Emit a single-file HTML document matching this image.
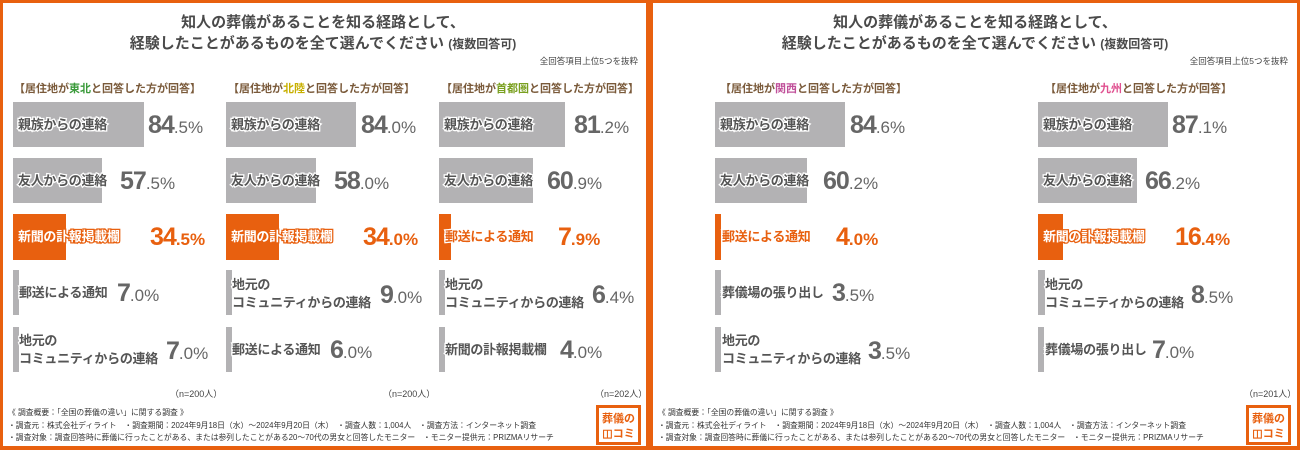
<!DOCTYPE html>
<html><head><meta charset="utf-8"><style>
*{margin:0;padding:0;box-sizing:border-box}
body{width:1300px;height:450px;background:#e8600f;position:relative;overflow:hidden;font-family:"Liberation Sans","Noto Sans CJK JP",sans-serif}
.pn{position:absolute;background:#fff;top:3px;height:443px}
.a{position:absolute;white-space:nowrap}
.t{font-size:15px;font-weight:bold;color:#4a4a4a;text-align:center;line-height:21px}
.t small{font-size:12px}
.sub{font-size:8.5px;color:#444}
.h{font-size:11px;font-weight:bold;color:#7a5a3a}
.bar{position:absolute;background:#b3b2b4}
.bar.o{background:#e8600f}
.lb{position:absolute;font-size:13px;font-weight:bold;color:#555;-webkit-text-stroke:2.5px #fff;paint-order:stroke fill;line-height:18px;white-space:nowrap;letter-spacing:-0.3px}
.lb.o{color:#e8600f}
.lb.w{color:#fff;-webkit-text-stroke:2.5px #e8600f}
.p{position:absolute;font-size:25px;font-weight:bold;color:#666;letter-spacing:-1px;white-space:nowrap;line-height:30px}
.p span{font-size:17px;font-weight:normal;letter-spacing:0}
.p.o{color:#e8600f}
.p.o span{font-weight:bold}
.n{font-size:9px;color:#444}
.f{font-size:7.8px;color:#333;line-height:12.5px}
.logo{position:absolute;width:45px;height:40px;border:3px solid #e8600f;background:#fff;color:#e8600f;font-size:11px;font-weight:bold;text-align:center;line-height:15px;padding-top:4px}
</style></head><body>
<div class="pn" style="left:3px;width:643px"></div>
<div class="pn" style="left:653px;width:644px"></div>

<div class="a t" style="left:0;width:646px;top:12px">知人の葬儀があることを知る経路として、<br>経験したことがあるものを全て選んでください <small>(複数回答可)</small></div>
<div class="a sub" style="right:662px;top:55px">全回答項目上位5つを抜粋</div>
<div class="a t" style="left:653px;width:644px;top:12px">知人の葬儀があることを知る経路として、<br>経験したことがあるものを全て選んでください <small>(複数回答可)</small></div>
<div class="a sub" style="right:12px;top:55px">全回答項目上位5つを抜粋</div>

<div class="a h" style="left:14px;top:80px">【居住地が<span style="color:#3a9a3a">東北</span>と回答した方が回答】</div>
<div class="a h" style="left:228px;top:80px">【居住地が<span style="color:#c8b000">北陸</span>と回答した方が回答】</div>
<div class="a h" style="left:441px;top:80px">【居住地が<span style="color:#7aa020">首都圏</span>と回答した方が回答】</div>
<div class="a h" style="left:720px;top:80px">【居住地が<span style="color:#c0509a">関西</span>と回答した方が回答】</div>
<div class="a h" style="left:1045px;top:80px">【居住地が<span style="color:#e05090">九州</span>と回答した方が回答】</div>

<!-- col1 -->
<div class="bar" style="left:13px;top:102px;width:131px;height:45px"></div>
<div class="lb" style="left:18px;top:116px">親族からの連絡</div>
<div class="p" style="left:148px;top:110px">84<span>.5%</span></div>
<div class="bar" style="left:13px;top:158px;width:89px;height:45px"></div>
<div class="lb" style="left:18px;top:172px">友人からの連絡</div>
<div class="p" style="left:120px;top:166px">57<span>.5%</span></div>
<div class="bar o" style="left:13px;top:214px;width:53px;height:46px"></div>
<div class="lb w" style="left:18px;top:228px">新聞の訃報掲載欄</div>
<div class="p o" style="left:150px;top:222px">34<span>.5%</span></div>
<div class="bar" style="left:13px;top:270px;width:6px;height:45px"></div>
<div class="lb" style="left:19px;top:284px">郵送による通知</div>
<div class="p" style="left:117px;top:278px">7<span>.0%</span></div>
<div class="bar" style="left:13px;top:327px;width:6px;height:45px"></div>
<div class="lb" style="left:19px;top:332px">地元の<br>コミュニティからの連絡</div>
<div class="p" style="left:166px;top:336px">7<span>.0%</span></div>
<div class="a n" style="left:170px;top:387px">（n=200人）</div>

<!-- col2 -->
<div class="bar" style="left:226px;top:102px;width:130px;height:45px"></div>
<div class="lb" style="left:231px;top:116px">親族からの連絡</div>
<div class="p" style="left:361px;top:110px">84<span>.0%</span></div>
<div class="bar" style="left:226px;top:158px;width:90px;height:45px"></div>
<div class="lb" style="left:231px;top:172px">友人からの連絡</div>
<div class="p" style="left:334px;top:166px">58<span>.0%</span></div>
<div class="bar o" style="left:226px;top:214px;width:53px;height:46px"></div>
<div class="lb w" style="left:231px;top:228px">新聞の訃報掲載欄</div>
<div class="p o" style="left:363px;top:222px">34<span>.0%</span></div>
<div class="bar" style="left:226px;top:270px;width:6px;height:45px"></div>
<div class="lb" style="left:232px;top:276px">地元の<br>コミュニティからの連絡</div>
<div class="p" style="left:380px;top:280px">9<span>.0%</span></div>
<div class="bar" style="left:226px;top:327px;width:6px;height:45px"></div>
<div class="lb" style="left:232px;top:341px">郵送による通知</div>
<div class="p" style="left:330px;top:335px">6<span>.0%</span></div>
<div class="a n" style="left:383px;top:387px">（n=200人）</div>

<!-- col3 -->
<div class="bar" style="left:439px;top:102px;width:126px;height:45px"></div>
<div class="lb" style="left:444px;top:116px">親族からの連絡</div>
<div class="p" style="left:574px;top:110px">81<span>.2%</span></div>
<div class="bar" style="left:439px;top:158px;width:94px;height:45px"></div>
<div class="lb" style="left:444px;top:172px">友人からの連絡</div>
<div class="p" style="left:547px;top:166px">60<span>.9%</span></div>
<div class="bar o" style="left:439px;top:214px;width:12px;height:46px"></div>
<div class="lb o" style="left:445px;top:228px">郵送による通知</div>
<div class="p o" style="left:558px;top:222px">7<span>.9%</span></div>
<div class="bar" style="left:439px;top:270px;width:6px;height:45px"></div>
<div class="lb" style="left:445px;top:276px">地元の<br>コミュニティからの連絡</div>
<div class="p" style="left:592px;top:280px">6<span>.4%</span></div>
<div class="bar" style="left:439px;top:327px;width:6px;height:45px"></div>
<div class="lb" style="left:445px;top:341px">新聞の訃報掲載欄</div>
<div class="p" style="left:560px;top:335px">4<span>.0%</span></div>
<div class="a n" style="left:595px;top:387px">（n=202人）</div>

<!-- right col1 -->
<div class="bar" style="left:715px;top:102px;width:130px;height:45px"></div>
<div class="lb" style="left:720px;top:116px">親族からの連絡</div>
<div class="p" style="left:850px;top:110px">84<span>.6%</span></div>
<div class="bar" style="left:715px;top:158px;width:92px;height:45px"></div>
<div class="lb" style="left:720px;top:172px">友人からの連絡</div>
<div class="p" style="left:823px;top:166px">60<span>.2%</span></div>
<div class="bar o" style="left:715px;top:214px;width:6px;height:46px"></div>
<div class="lb o" style="left:722px;top:228px">郵送による通知</div>
<div class="p o" style="left:836px;top:222px">4<span>.0%</span></div>
<div class="bar" style="left:715px;top:270px;width:6px;height:45px"></div>
<div class="lb" style="left:722px;top:284px">葬儀場の張り出し</div>
<div class="p" style="left:832px;top:278px">3<span>.5%</span></div>
<div class="bar" style="left:715px;top:327px;width:6px;height:45px"></div>
<div class="lb" style="left:722px;top:332px">地元の<br>コミュニティからの連絡</div>
<div class="p" style="left:868px;top:336px">3<span>.5%</span></div>

<!-- right col2 -->
<div class="bar" style="left:1038px;top:102px;width:130px;height:45px"></div>
<div class="lb" style="left:1043px;top:116px">親族からの連絡</div>
<div class="p" style="left:1172px;top:110px">87<span>.1%</span></div>
<div class="bar" style="left:1038px;top:158px;width:99px;height:45px"></div>
<div class="lb" style="left:1043px;top:172px">友人からの連絡</div>
<div class="p" style="left:1145px;top:166px">66<span>.2%</span></div>
<div class="bar o" style="left:1038px;top:214px;width:25px;height:46px"></div>
<div class="lb w" style="left:1043px;top:228px">新聞の訃報掲載欄</div>
<div class="p o" style="left:1175px;top:222px">16<span>.4%</span></div>
<div class="bar" style="left:1038px;top:270px;width:7px;height:45px"></div>
<div class="lb" style="left:1045px;top:276px">地元の<br>コミュニティからの連絡</div>
<div class="p" style="left:1191px;top:280px">8<span>.5%</span></div>
<div class="bar" style="left:1038px;top:327px;width:6px;height:45px"></div>
<div class="lb" style="left:1045px;top:341px">葬儀場の張り出し</div>
<div class="p" style="left:1152px;top:335px">7<span>.0%</span></div>
<div class="a n" style="left:1244px;top:387px">（n=201人）</div>

<!-- footers -->
<div class="a f" style="left:8px;top:407px">《 調査概要：「全国の葬儀の違い」に関する調査 》<br>・調査元：株式会社ディライト　・調査期間：2024年9月18日（水）～2024年9月20日（木）　・調査人数：1,004人　・調査方法：インターネット調査<br>・調査対象：調査回答時に葬儀に行ったことがある、または参列したことがある20～70代の男女と回答したモニター　・モニター提供元：PRIZMAリサーチ</div>
<div class="a f" style="left:658px;top:407px">《 調査概要：「全国の葬儀の違い」に関する調査 》<br>・調査元：株式会社ディライト　・調査期間：2024年9月18日（水）～2024年9月20日（木）　・調査人数：1,004人　・調査方法：インターネット調査<br>・調査対象：調査回答時に葬儀に行ったことがある、または参列したことがある20～70代の男女と回答したモニター　・モニター提供元：PRIZMAリサーチ</div>
<div class="logo" style="left:596px;top:405px">葬儀の<br>◫コミ</div>
<div class="logo" style="left:1246px;top:405px">葬儀の<br>◫コミ</div>
</body></html>
